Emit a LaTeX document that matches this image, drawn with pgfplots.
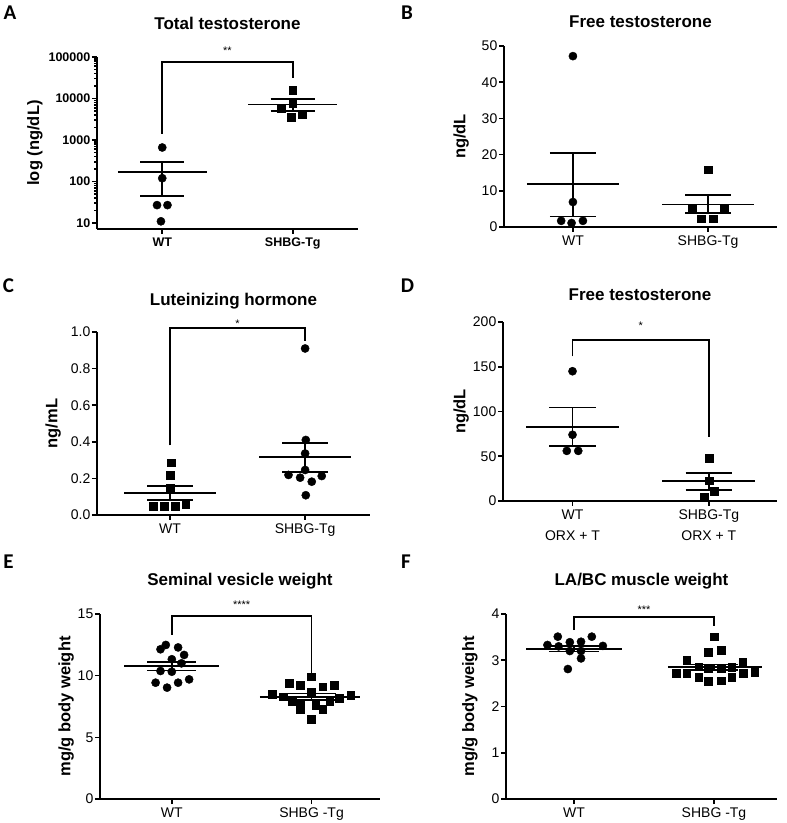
\documentclass[border=0pt]{standalone}
\usepackage{fontspec}
\setmainfont{Liberation Sans}
\newfontfamily\letterfont{Carlito}
\usepackage{pgfplots}
\pgfplotsset{compat=1.18}
\pgfplotsset{
  gp/.style={
    scale only axis, anchor=south west, clip=false,
    axis x line*=bottom, axis y line*=left,
    axis line style={line width=1.7pt,-},
    tick style={black, line width=1.6pt},
    major tick length=5pt, minor tick length=2.5pt,
    tick align=outside,
    xtick={1,2}, xticklabels={WT,SHBG-Tg},
    tick label style={font=\fontsize{14}{16}\selectfont},
    /pgf/number format/assume math mode=true,
    title style={font=\fontsize{17}{19}\selectfont\bfseries, at={(0.5,1)}, anchor=center},
    every axis y label/.style={font=\fontsize{16.5}{18}\selectfont\bfseries, rotate=90, anchor=center},
    yticklabel style={inner xsep=1.5pt},
  },
  ml/.style={black, line width=1.8pt, forget plot},
  pc/.style={only marks, mark=*, mark size=4.1pt, black},
  ps/.style={only marks, mark=square*, mark size=3.9pt, black},
  br/.style={black, line width=1.8pt},
}
\begin{document}
\begin{tikzpicture}
\path[use as bounding box] (0,0) rectangle (787pt,823pt);
\tikzset{pl/.style={font=\fontsize{21}{22}\selectfont\letterfont\bfseries, anchor=center}}
\node[pl] at (10pt,810pt) {A};
\node[pl] at (407pt,810.5pt) {B};
\node[pl] at (8.5pt,537.5pt) {C};
\node[pl] at (407.5pt,537.5pt) {D};
\node[pl] at (8.5pt,261.5pt) {E};
\node[pl] at (406pt,261.5pt) {F};

% ---------------- A
\begin{axis}[gp, at={(97pt,594pt)}, width=261pt, height=172pt,
  xmin=0.5, xmax=2.5, ymode=log, ymin=7.18, ymax=100000,
  ytick={10,100,1000,10000,100000}, yticklabels={10,100,1000,10000,100000},
  tick label style={font=\fontsize{12.5}{14}\selectfont\bfseries},
  title={Total testosterone}, title style={yshift=28pt},
  ylabel={log (ng/dL)}, ylabel style={at={(axis description cs:-0.2375,0.5)}}]
\addplot[pc] coordinates {(1,660) (1,120) (0.96,27) (1.04,27) (0.99,11)};
\addplot[ps] coordinates {(2,15800) (2,7700) (1.91,5750) (1.99,3500) (2.072,4060)};
\addplot[ml] coordinates {(0.66,168) (1.34,168)};
\addplot[ml] coordinates {(1,44.5) (1,291)};
\addplot[ml] coordinates {(0.83,291) (1.17,291)};
\addplot[ml] coordinates {(0.83,44.5) (1.17,44.5)};
\addplot[ml] coordinates {(1.66,7180) (2.34,7180)};
\addplot[ml] coordinates {(2,5060) (2,9820)};
\addplot[ml] coordinates {(1.83,9820) (2.17,9820)};
\addplot[ml] coordinates {(1.83,5060) (2.17,5060)};
\addplot[br] coordinates {(1,1400) (1,76000) (2,76000) (2,30800)};
\node[font=\fontsize{11}{11}\selectfont] at (axis cs:1.5,140000) {**};
\end{axis}

% ---------------- B
\begin{axis}[gp, at={(504pt,596pt)}, width=273pt, height=181pt,
  xmin=0.49, xmax=2.51, ymin=0, ymax=50, ytick={0,10,20,30,40,50},
  title={Free testosterone}, title style={yshift=18pt},
  ylabel={ng/dL}, ylabel style={at={(axis description cs:-0.157,0.5)}}]
\addplot[pc] coordinates {(1,47.2) (1,6.9) (0.913,1.7) (1.074,1.7) (0.99,1.1)};
\addplot[ps] coordinates {(2,15.8) (1.88,4.95) (2.12,4.95) (1.95,2.3) (2.04,2.3)};
\addplot[ml] coordinates {(0.66,11.8) (1.34,11.8)};
\addplot[ml] coordinates {(1,2.9) (1,20.4)};
\addplot[ml] coordinates {(0.83,20.4) (1.17,20.4)};
\addplot[ml] coordinates {(0.83,2.9) (1.17,2.9)};
\addplot[ml] coordinates {(1.66,6.2) (2.34,6.2)};
\addplot[ml] coordinates {(2,3.85) (2,8.8)};
\addplot[ml] coordinates {(1.83,8.8) (2.17,8.8)};
\addplot[ml] coordinates {(1.83,3.85) (2.17,3.85)};
\end{axis}

% ---------------- C
\begin{axis}[gp, at={(97pt,308pt)}, width=273pt, height=183pt,
  xmin=0.46, xmax=2.48, ymin=0, ymax=1, ytick={0,0.2,0.4,0.6,0.8,1.0},
  yticklabels={0.0,0.2,0.4,0.6,0.8,1.0},
  title={Luteinizing hormone}, title style={yshift=25pt},
  ylabel={ng/mL}, ylabel style={at={(axis description cs:-0.161,0.5)}}]
\addplot[ps] coordinates {(1.01,0.286) (1,0.219) (1,0.146) (0.877,0.046) (0.956,0.046) (1.037,0.046) (1.116,0.06)};
\addplot[pc] coordinates {(2,0.91) (2.005,0.41) (2,0.336) (2,0.246) (1.877,0.219) (1.963,0.204) (2.049,0.182) (2.123,0.213) (2.005,0.108)};
\addplot[ml] coordinates {(0.66,0.122) (1.34,0.122)};
\addplot[ml] coordinates {(1,0.082) (1,0.16)};
\addplot[ml] coordinates {(0.83,0.16) (1.17,0.16)};
\addplot[ml] coordinates {(0.83,0.082) (1.17,0.082)};
\addplot[ml] coordinates {(1.66,0.316) (2.34,0.316)};
\addplot[ml] coordinates {(2,0.237) (2,0.392)};
\addplot[ml] coordinates {(1.83,0.392) (2.17,0.392)};
\addplot[ml] coordinates {(1.83,0.237) (2.17,0.237)};
\addplot[br] coordinates {(1,0.38) (1,1.02) (2,1.02) (2,0.95)};
\node[font=\fontsize{11}{11}\selectfont] at (axis cs:1.5,1.045) {*};
\end{axis}

% ---------------- D
\begin{axis}[gp, at={(503pt,322pt)}, width=274pt, height=179pt,
  xmin=0.49, xmax=2.5, ymin=0, ymax=200, ytick={0,50,100,150,200},
  xticklabels={{WT\\ORX + T},{SHBG-Tg\\ORX + T}},
  xticklabel style={align=center, font=\fontsize{14}{21}\selectfont},
  title={Free testosterone}, title style={yshift=21pt},
  ylabel={ng/dL}, ylabel style={at={(axis description cs:-0.153,0.5)}}]
\addplot[pc] coordinates {(1,145) (1,74) (0.958,56) (1.042,56)};
\addplot[ps] coordinates {(2,47.6) (2,22.7) (2.042,10.8) (1.963,4.8)};
\addplot[ml] coordinates {(0.66,82.9) (1.34,82.9)};
\addplot[ml] coordinates {(1,61.7) (1,104.5)};
\addplot[ml] coordinates {(0.83,104.5) (1.17,104.5)};
\addplot[ml] coordinates {(0.83,61.7) (1.17,61.7)};
\addplot[ml] coordinates {(1.66,22.3) (2.34,22.3)};
\addplot[ml] coordinates {(2,12.3) (2,31.6)};
\addplot[ml] coordinates {(1.83,31.6) (2.17,31.6)};
\addplot[ml] coordinates {(1.83,12.3) (2.17,12.3)};
\addplot[br] coordinates {(1,161.7) (1,179.5) (2,179.5) (2,71.7)};
\node[font=\fontsize{11}{11}\selectfont] at (axis cs:1.5,196) {*};
\end{axis}

% ---------------- E
\begin{axis}[gp, at={(100pt,24pt)}, width=280pt, height=185pt,
  xmin=0.486, xmax=2.49, ymin=0, ymax=15, ytick={0,5,10,15},
  xticklabels={WT,SHBG -Tg},
  title={Seminal vesicle weight}, title style={yshift=27pt},
  ylabel={mg/g body weight}, ylabel style={at={(axis description cs:-0.121,0.5)}}]
\addplot[pc] coordinates {(0.957,12.49) (0.919,12.14) (1.045,12.29) (1.088,11.68) (1.0,11.33) (1.069,11.0) (0.919,10.38) (1.0,10.32) (0.884,9.43) (1.045,9.43) (1.124,9.7) (0.966,9.03)};
\addplot[ps] coordinates {(2,9.92) (1.84,9.38) (1.92,9.25) (2.08,9.11) (2.16,9.25) (1.72,8.52) (1.80,8.3) (2,8.64) (2.28,8.43) (2.2,8.17) (1.86,7.89) (1.92,7.81) (2.03,7.62) (2.08,7.27) (1.92,7.27) (2.13,7.89) (2,6.45)};
\addplot[ml] coordinates {(0.66,10.8) (1.34,10.8)};
\addplot[ml] coordinates {(1,10.42) (1,11.08)};
\addplot[ml] coordinates {(0.825,11.08) (1.175,11.08)};
\addplot[ml] coordinates {(0.825,10.42) (1.175,10.42)};
\addplot[ml] coordinates {(1.63,8.3) (2.35,8.3)};
\addplot[ml] coordinates {(2,8.05) (2,8.55)};
\addplot[ml] coordinates {(1.825,8.55) (2.175,8.55)};
\addplot[ml] coordinates {(1.825,8.05) (2.175,8.05)};
\addplot[br] coordinates {(1,13.3) (1,14.87) (2,14.87) (2,10.25)};
\node[font=\fontsize{11}{11}\selectfont] at (axis cs:1.5,15.75) {****};
\end{axis}

% ---------------- F
\begin{axis}[gp, at={(506pt,24pt)}, width=271pt, height=185pt,
  xmin=0.514, xmax=2.45, ymin=0, ymax=4, ytick={0,1,2,3,4},
  xticklabels={WT,SHBG -Tg},
  title={LA/BC muscle weight}, title style={yshift=27pt},
  ylabel={mg/g body weight}, ylabel style={at={(axis description cs:-0.133,0.5)}}]
\addplot[pc] coordinates {(0.884,3.51) (1.127,3.51) (0.81,3.33) (0.89,3.3) (0.97,3.39) (1.05,3.4) (1.206,3.31) (0.97,3.2) (1.05,3.2) (1.05,3.04) (0.956,2.81)};
\addplot[ps] coordinates {(2,3.51) (1.96,3.18) (2.05,3.22) (1.805,3.0) (2.205,2.97) (1.89,2.86) (1.73,2.72) (1.805,2.72) (2.21,2.72) (2.29,2.75) (1.89,2.63) (1.96,2.54) (2.05,2.56) (2.126,2.64) (1.96,2.83) (2.05,2.83) (2.126,2.85)};
\addplot[ml] coordinates {(0.66,3.25) (1.34,3.25)};
\addplot[ml] coordinates {(1,3.19) (1,3.31)};
\addplot[ml] coordinates {(0.82,3.31) (1.18,3.31)};
\addplot[ml] coordinates {(0.82,3.19) (1.18,3.19)};
\addplot[ml] coordinates {(1.67,2.85) (2.34,2.85)};
\addplot[ml] coordinates {(2,2.79) (2,2.91)};
\addplot[ml] coordinates {(1.83,2.91) (2.17,2.91)};
\addplot[ml] coordinates {(1.83,2.79) (2.17,2.79)};
\addplot[br] coordinates {(1,3.65) (1,3.94) (2,3.94) (2,3.74)};
\node[font=\fontsize{11}{11}\selectfont] at (axis cs:1.5,4.1) {***};
\end{axis}
\end{tikzpicture}
\end{document}
